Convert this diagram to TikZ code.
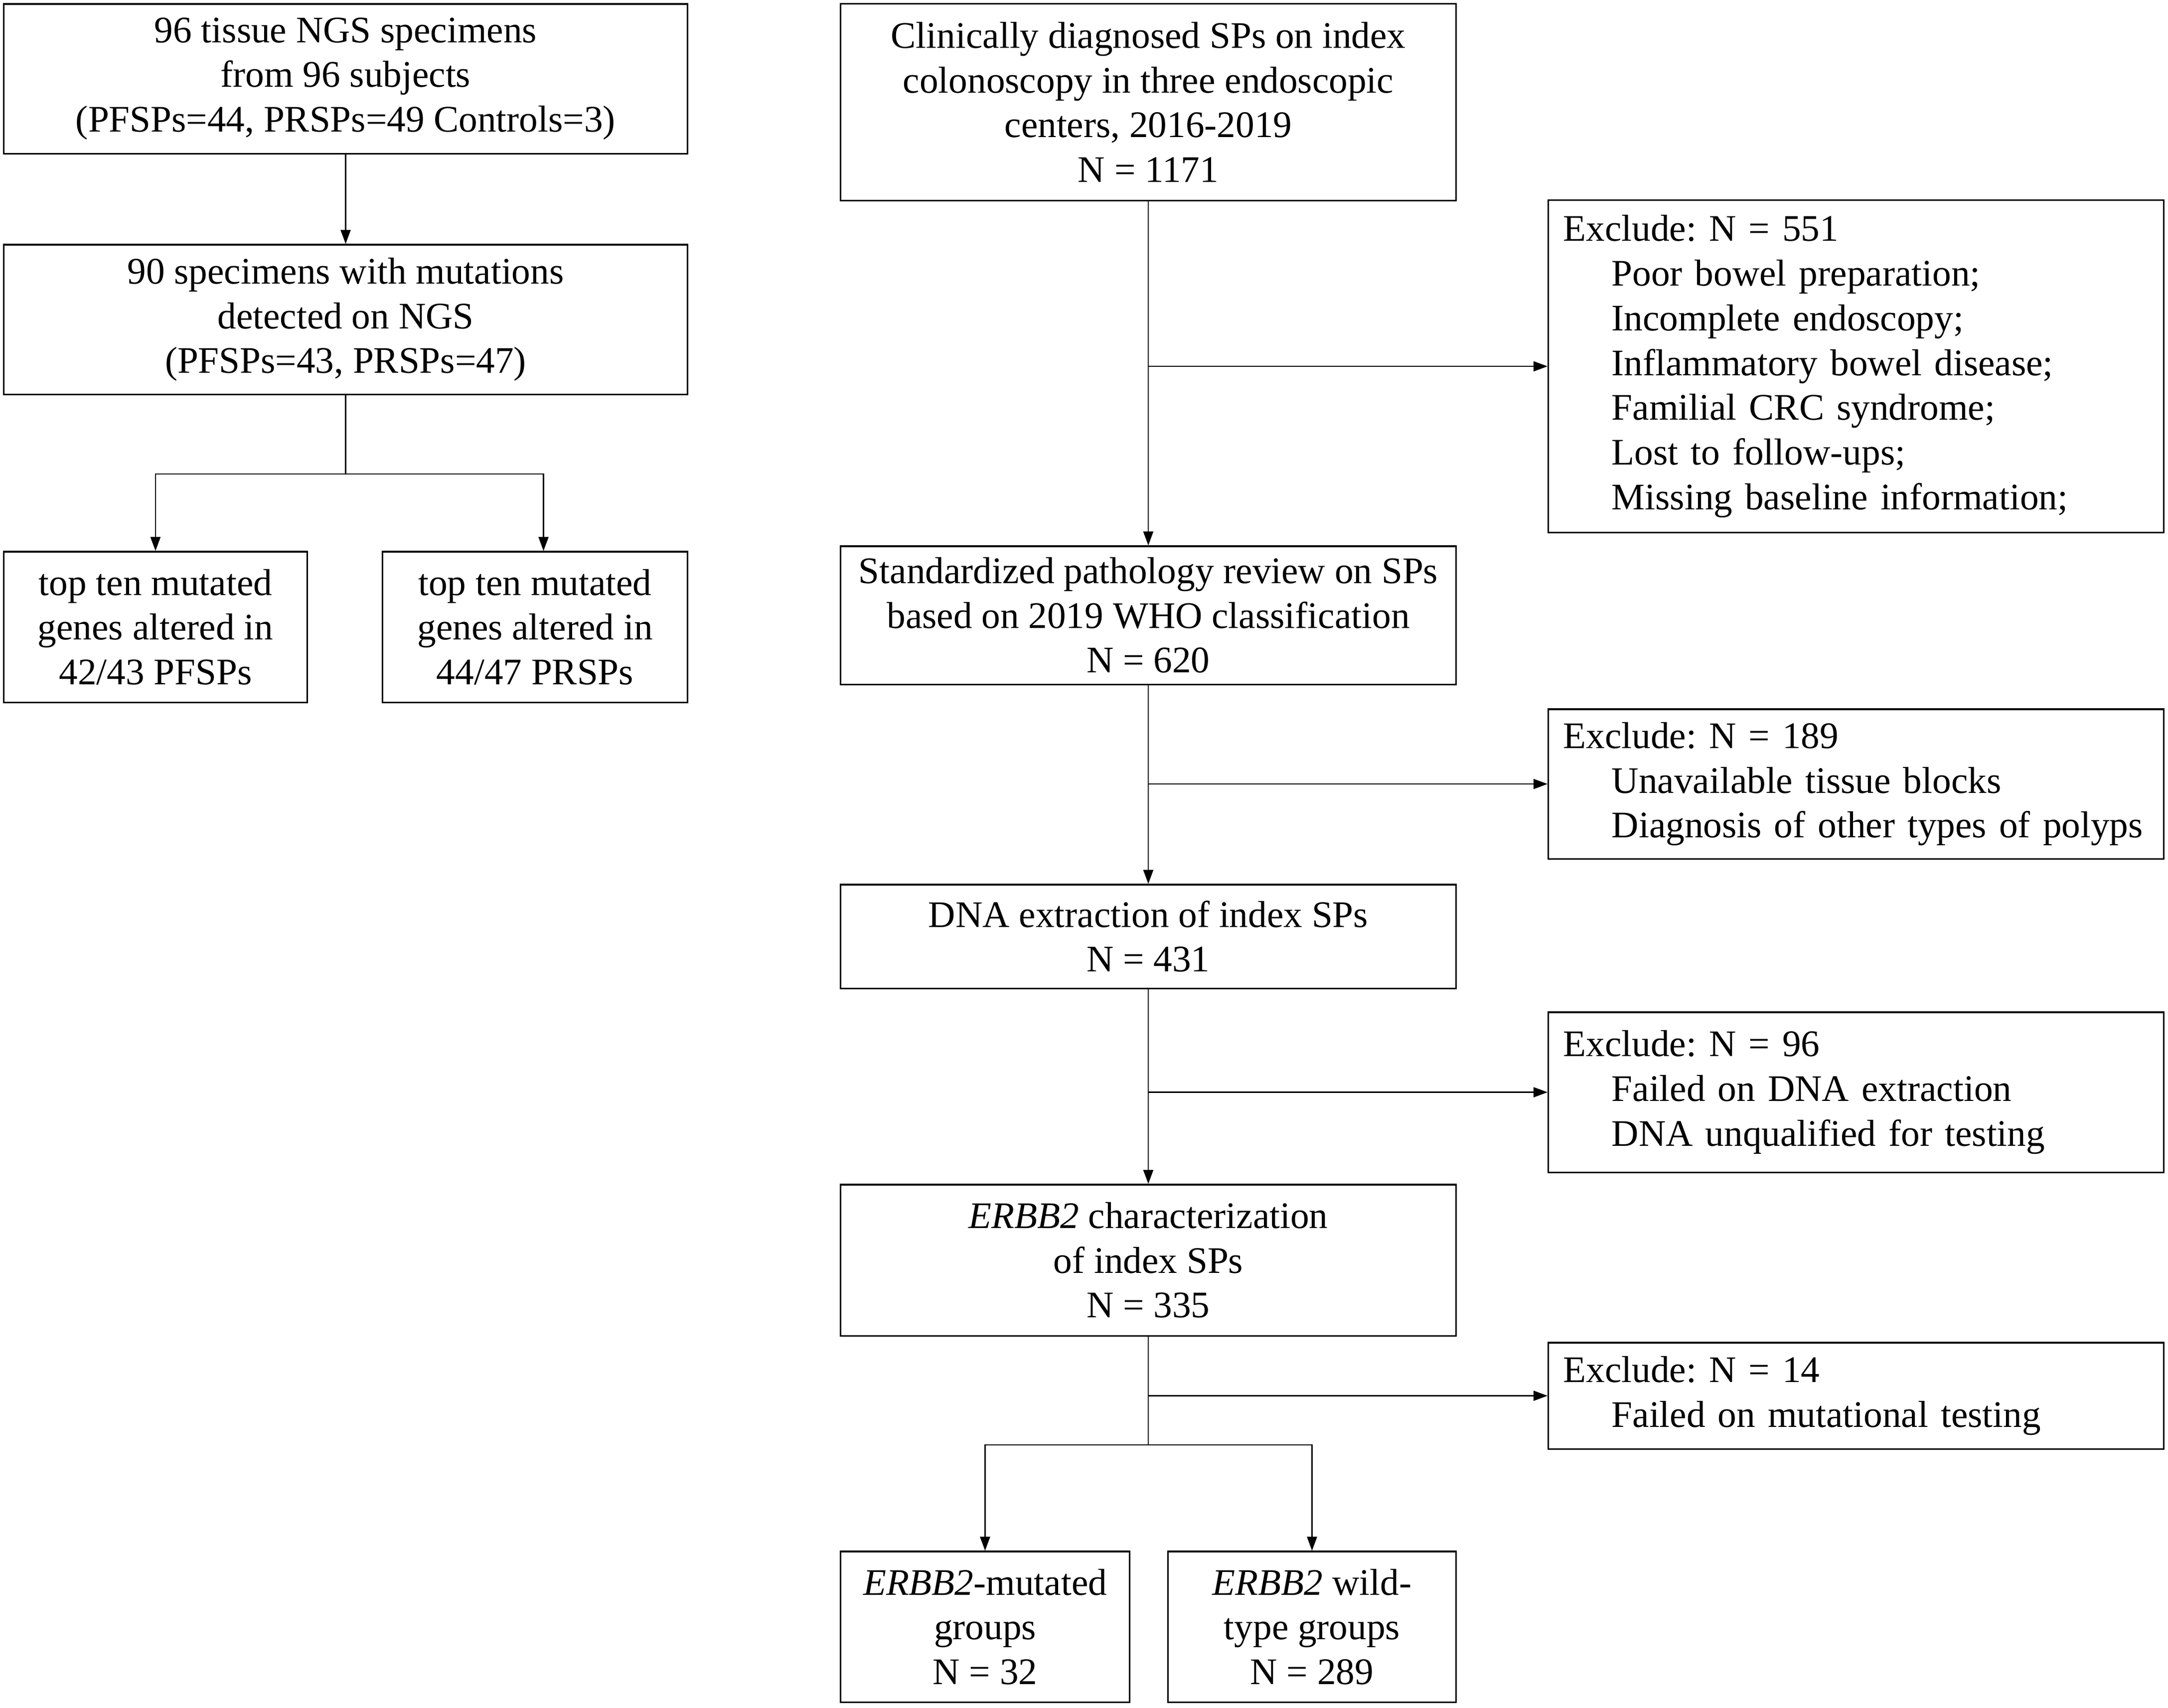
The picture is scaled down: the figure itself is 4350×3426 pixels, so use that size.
\documentclass[tikz,border=0pt]{standalone}
\usepackage{fontspec}
\setmainfont{Liberation Serif}
\usetikzlibrary{arrows.meta}
\newcommand{\fs}{\fontsize{21.4}{25.5}\selectfont\frenchspacing}
\newcommand{\ind}{\hspace*{0.97cm}}
\begin{document}
\begin{tikzpicture}[x=0.01cm,y=-0.01cm,
  box/.style={draw, line width=0.9pt, inner sep=0pt, align=center, font=\fs},
  exbox/.style={draw, line width=0.9pt, inner xsep=0.3cm, inner ysep=0pt, align=left, font=\fs, text width=11.74cm, minimum width=12.34cm},
  arr/.style={line width=0.7pt, -{Triangle[length=0.28cm,width=0.2cm]}},
  ln/.style={line width=0.7pt}]
\useasboundingbox (0,0) rectangle (4350,3426);
% left column
\node[box, minimum width=13.71cm, minimum height=3cm] (a) at (693.5,158)
  {96 tissue NGS specimens\\from 96 subjects\\(PFSPs=44, PRSPs=49 Controls=3)};
\node[box, minimum width=13.71cm, minimum height=3cm] (b) at (693.5,641)
  {90 specimens with mutations\\detected on NGS\\(PFSPs=43, PRSPs=47)};
\node[box, minimum width=6.08cm, minimum height=3.02cm] (c1) at (312,1258)
  {top ten mutated\\genes altered in\\42/43 PFSPs};
\node[box, minimum width=6.11cm, minimum height=3.02cm] (c2) at (1073.5,1258)
  {top ten mutated\\genes altered in\\44/47 PRSPs};
\coordinate (jl) at (693.5,951);
\draw[arr] (a) -- (b);
\draw[ln] (b) -- (jl);
\draw[arr] (jl) -| (c1);
\draw[arr] (jl) -| ([xshift=0.17cm]c2.north);
% right column
\node[box, minimum width=12.34cm, minimum height=3.94cm] (r1) at (2304,205)
  {Clinically diagnosed SPs on index\\colonoscopy in three endoscopic\\centers, 2016-2019\\N = 1171};
\node[exbox, minimum height=6.66cm] (e1) at (3724,735)
  {Exclude: N = 551\\\ind Poor bowel preparation;\\\ind Incomplete endoscopy;\\\ind Inflammatory bowel disease;\\\ind Familial CRC syndrome;\\\ind Lost to follow-ups;\\\ind Missing baseline information;};
\node[box, minimum width=12.34cm, minimum height=2.77cm] (r2) at (2304,1234.5)
  {Standardized pathology review on SPs\\based on 2019 WHO classification\\N = 620};
\node[exbox, minimum height=3.0cm] (e2) at (3724,1573)
  {Exclude: N = 189\\\ind Unavailable tissue blocks\\\ind Diagnosis of other types of polyps};
\node[box, minimum width=12.34cm, minimum height=2.08cm] (r3) at (2304,1879)
  {DNA extraction of index SPs\\N = 431};
\node[exbox, minimum height=3.21cm] (e3) at (3724,2191.5)
  {Exclude: N = 96\\\ind Failed on DNA extraction\\\ind DNA unqualified for testing};
\node[box, minimum width=12.34cm, minimum height=3.03cm] (r4) at (2304,2528.5)
  {\textit{ERBB2} characterization\\of index SPs\\N = 335};
\node[exbox, minimum height=2.13cm] (e4) at (3724,2800.5)
  {Exclude: N = 14\\\ind Failed on mutational testing};
\node[box, minimum width=5.79cm, minimum height=3.02cm] (r5a) at (1976.5,3264)
  {\textit{ERBB2}-mutated\\groups\\N = 32};
\node[box, minimum width=5.77cm, minimum height=3.02cm] (r5b) at (2632.5,3264)
  {\textit{ERBB2} wild-\\type groups\\N = 289};
\coordinate (jr) at (2304,2899);
\draw[arr] (r1) -- (r2);
\draw[arr] (r2) -- (r3);
\draw[arr] (r3) -- (r4);
\draw[ln] (r4) -- (jr);
\draw[arr] (r1.south |- e1.west) -- (e1.west);
\draw[arr] (r2.south |- e2.west) -- (e2.west);
\draw[arr] (r3.south |- e3.west) -- (e3.west);
\draw[arr] (r4.south |- e4.west) -- (e4.west);
\draw[arr] (jr) -| (r5a);
\draw[arr] (jr) -| (r5b);
\end{tikzpicture}
\end{document}
